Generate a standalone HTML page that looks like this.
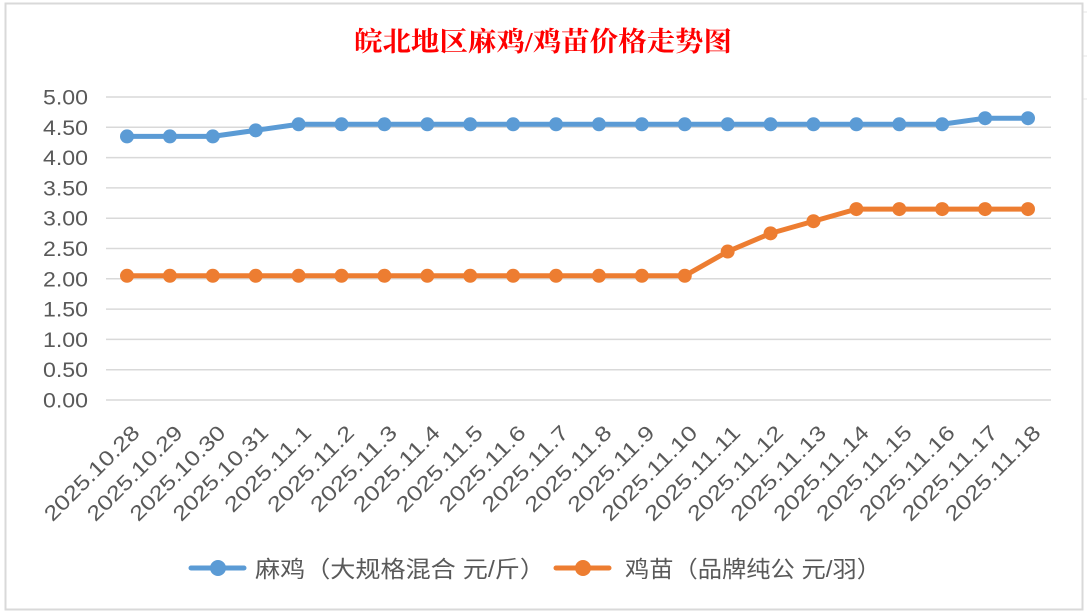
<!DOCTYPE html>
<html><head><meta charset="utf-8"><style>
html,body{margin:0;padding:0;background:#fff;}
svg{display:block;}
</style></head><body>
<svg width="1087" height="614" xmlns="http://www.w3.org/2000/svg">
<rect x="0" y="0" width="1087" height="614" fill="#fff"/>
<g stroke="#e6e6e6" stroke-width="1">
<line x1="1083" y1="12" x2="1087" y2="12"/><line x1="1083" y1="56" x2="1087" y2="56"/><line x1="1083" y1="99" x2="1087" y2="99"/>
</g>
<rect x="5.5" y="3.5" width="1077" height="606" fill="#fff" stroke="#d9d9d9" stroke-width="2"/>
<text x="354" y="51" textLength="378" lengthAdjust="spacingAndGlyphs" font-family="'Liberation Serif','Noto Serif CJK SC',serif" font-weight="bold" font-size="27" fill="#ff0000">皖北地区麻鸡/鸡苗价格走势图</text>
<g stroke="#d9d9d9" stroke-width="1.5">
<line x1="106" x2="1051" y1="97" y2="97"/><line x1="106" x2="1051" y1="127.3" y2="127.3"/><line x1="106" x2="1051" y1="157.6" y2="157.6"/><line x1="106" x2="1051" y1="187.9" y2="187.9"/><line x1="106" x2="1051" y1="218.2" y2="218.2"/><line x1="106" x2="1051" y1="248.5" y2="248.5"/><line x1="106" x2="1051" y1="278.8" y2="278.8"/><line x1="106" x2="1051" y1="309.1" y2="309.1"/><line x1="106" x2="1051" y1="339.4" y2="339.4"/><line x1="106" x2="1051" y1="369.7" y2="369.7"/><line x1="106" x2="1051" y1="400" y2="400"/>
</g>
<g id="yl" font-family="'Liberation Sans',sans-serif" font-size="21" fill="#595959"></g>
<g id="xl" font-family="'Liberation Sans',sans-serif" font-size="21" fill="#595959" text-anchor="end"></g>
<polyline id="p1" fill="none" stroke="#5b9bd5" stroke-width="5" stroke-linejoin="round"/>
<polyline id="p2" fill="none" stroke="#ed7d31" stroke-width="5" stroke-linejoin="round"/>
<g id="m1" fill="#5b9bd5"></g><g id="m2" fill="#ed7d31"></g>
<line x1="191" y1="568" x2="244" y2="568" stroke="#5b9bd5" stroke-width="5" stroke-linecap="round"/><circle cx="218" cy="568" r="8" fill="#5b9bd5"/>
<text x="255" y="577" textLength="290" lengthAdjust="spacingAndGlyphs" font-family="'Liberation Sans','Noto Sans CJK SC',sans-serif" font-size="23" fill="#595959">麻鸡（大规格混合 元/斤）</text>
<line x1="556" y1="568" x2="609" y2="568" stroke="#ed7d31" stroke-width="5" stroke-linecap="round"/><circle cx="583" cy="568" r="8" fill="#ed7d31"/>
<text x="625" y="577" textLength="256" lengthAdjust="spacingAndGlyphs" font-family="'Liberation Sans','Noto Sans CJK SC',sans-serif" font-size="23" fill="#595959">鸡苗（品牌纯公 元/羽）</text>
<script>
var labels=["2025.10.28","2025.10.29","2025.10.30","2025.10.31","2025.11.1","2025.11.2","2025.11.3","2025.11.4","2025.11.5","2025.11.6","2025.11.7","2025.11.8","2025.11.9","2025.11.10","2025.11.11","2025.11.12","2025.11.13","2025.11.14","2025.11.15","2025.11.16","2025.11.17","2025.11.18"];
var a=[4.35,4.35,4.35,4.45,4.55,4.55,4.55,4.55,4.55,4.55,4.55,4.55,4.55,4.55,4.55,4.55,4.55,4.55,4.55,4.55,4.65,4.65];
var b=[2.05,2.05,2.05,2.05,2.05,2.05,2.05,2.05,2.05,2.05,2.05,2.05,2.05,2.05,2.45,2.75,2.95,3.15,3.15,3.15,3.15,3.15];
var NS="http://www.w3.org/2000/svg";
function X(i){return 127+i*901/21;}function Y(v){return 400-v*60.6;}
var yl=document.getElementById("yl");
for(var k=0;k<=10;k++){var t=document.createElementNS(NS,"text");t.setAttribute("x",43);t.setAttribute("y",400-k*30.3+7.5);t.setAttribute("textLength",45);t.setAttribute("lengthAdjust","spacingAndGlyphs");t.textContent=(k*0.5).toFixed(2);yl.appendChild(t);}
var p1=[],p2=[],xl=document.getElementById("xl");
for(var i=0;i<22;i++){var x=X(i);p1.push(x+","+Y(a[i]));p2.push(x+","+Y(b[i]));
var t=document.createElementNS(NS,"text");var tx=x+14,ty=434;t.setAttribute("x",tx);t.setAttribute("y",ty);t.setAttribute("textLength",labels[i].length*12.5);t.setAttribute("lengthAdjust","spacingAndGlyphs");t.setAttribute("transform","rotate(-45 "+tx+" "+ty+")");t.textContent=labels[i];xl.appendChild(t);
[["m1",a],["m2",b]].forEach(function(s){var c=document.createElementNS(NS,"circle");c.setAttribute("cx",x);c.setAttribute("cy",Y(s[1][i]));c.setAttribute("r",7);document.getElementById(s[0]).appendChild(c);});}
document.getElementById("p1").setAttribute("points",p1.join(" "));
document.getElementById("p2").setAttribute("points",p2.join(" "));
</script>
</svg>
</body></html>
